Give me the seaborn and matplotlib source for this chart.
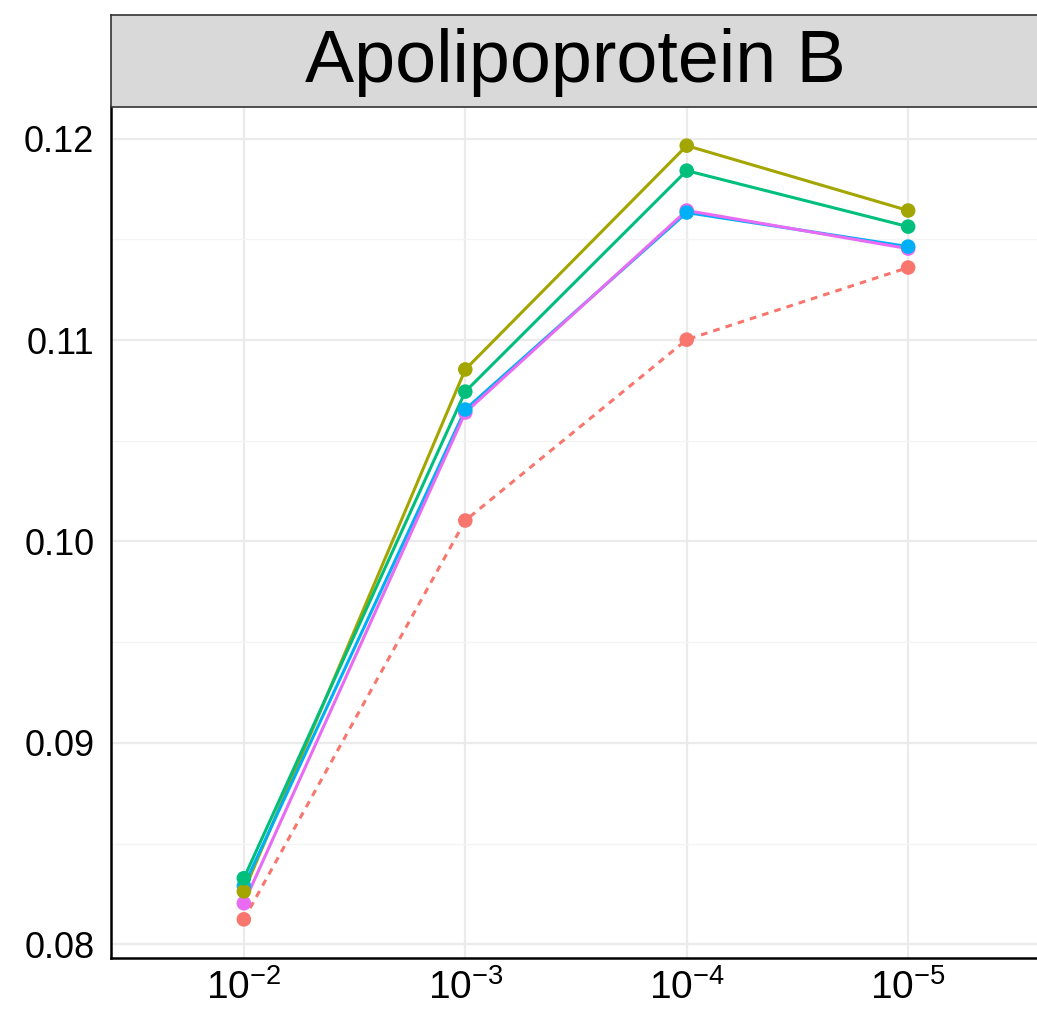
import matplotlib
matplotlib.use("Agg")
import matplotlib.pyplot as plt
import seaborn as sns
import pandas as pd
import numpy as np

# ---- data ----
thresholds = ["1e-2", "1e-3", "1e-4", "1e-5"]
tick_labels = [r"$10^{-2}$", r"$10^{-3}$", r"$10^{-4}$", r"$10^{-5}$"]
series_names = ["S1", "S2", "S3", "S4", "S5"]
s1 = [0.08124, 0.10104, 0.11002, 0.11360]   # red dashed
s2 = [0.08263, 0.10854, 0.11965, 0.11643]   # olive
s3 = [0.08328, 0.10744, 0.11841, 0.11563]   # green
s4 = [0.08290, 0.10655, 0.11633, 0.11464]   # blue
s5 = [0.08204, 0.10640, 0.11643, 0.11454]   # magenta
title = "Apolipoprotein B"

colors = ["#F8766D", "#A3A500", "#00BF7D", "#00B0F6", "#E76BF3"]

rows = []
for name, vals in zip(series_names, [s1, s2, s3, s4, s5]):
    for i, (t, v) in enumerate(zip(thresholds, vals)):
        rows.append({"series": name, "x": i, "value": v})
df = pd.DataFrame(rows)

sns.set_theme(style="white")
plt.rcParams["font.family"] = ["Liberation Sans", "DejaVu Sans"]
plt.rcParams["mathtext.fontset"] = "custom"
plt.rcParams["mathtext.rm"] = "Liberation Sans"
plt.rcParams["mathtext.it"] = "Liberation Sans:italic"
plt.rcParams["mathtext.sf"] = "Liberation Sans"

W, H = 1037, 1021
fig = plt.figure(figsize=(W / 100, H / 100), dpi=100)
left, right, top, bottom = 111, 1041, 107, 958
ax = fig.add_axes([left / W, (H - bottom) / H, (right - left) / W, (bottom - top) / H])

palette = dict(zip(series_names, colors))
dashes = {n: "" for n in series_names}
dashes["S1"] = (2.2, 2.0)

sns.lineplot(data=df, x="x", y="value", hue="series", style="series",
             palette=palette, dashes=dashes, linewidth=2.2, legend=False,
             ax=ax, zorder=2)
point_order = ["S1", "S5", "S4", "S2", "S3"]
dfp = pd.concat([df[df["series"] == n] for n in point_order])
sns.scatterplot(data=dfp, x="x", y="value", hue="series", palette=palette,
                s=110, edgecolor="none", linewidth=0, legend=False, ax=ax, zorder=3)

ax.set_xlim(-0.6, 3.6)
ax.set_ylim(0.07932, 0.12157)
ax.set_xticks(range(len(thresholds)))
ax.set_xticklabels(tick_labels)
ax.set_yticks([0.08, 0.09, 0.10, 0.11, 0.12])
ax.set_yticklabels(["0.08", "0.09", "0.10", "0.11", "0.12"])
ax.set_yticks([0.085, 0.095, 0.105, 0.115], minor=True)
ax.set_xlabel("")
ax.set_ylabel("")

ax.grid(True, which="major", color="#EBEBEB", linewidth=1.6, zorder=0)
ax.grid(True, which="minor", axis="y", color="#F4F4F4", linewidth=0.9, zorder=0)
ax.set_axisbelow(True)

for sp in ["top", "right"]:
    ax.spines[sp].set_visible(False)
for sp in ["left", "bottom"]:
    ax.spines[sp].set_color("black")
    ax.spines[sp].set_linewidth(1.8)

ax.tick_params(axis="both", which="major", length=5, width=1.2, color="#333333",
               labelsize=26, labelcolor="black", pad=7, direction="out")
ax.tick_params(axis="both", which="minor", length=0)
ax.tick_params(axis="x", labelsize=28, pad=3)

# strip
sax = fig.add_axes([left / W, (H - top) / H, (right - left) / W, (top - 15) / H])
sax.set_facecolor("#D9D9D9")
sax.set_xticks([])
sax.set_yticks([])
for sp in sax.spines.values():
    sp.set_color("#333333")
    sp.set_linewidth(1.2)
sax.text((575 - left) / (right - left), 0.48, title, ha="center", va="center",
         fontsize=53, color="black", transform=sax.transAxes)

fig.savefig("out.png", dpi=100, facecolor="white")
